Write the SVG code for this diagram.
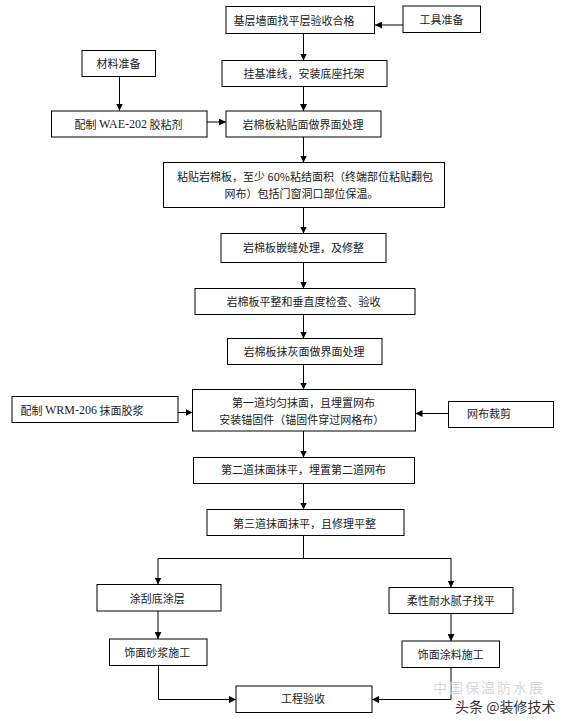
<svg xmlns="http://www.w3.org/2000/svg" width="569" height="721" viewBox="0 0 569 721">
<style>
.b{fill:#fff;stroke:#000;stroke-width:1}
.t{font-family:"Noto Sans CJK SC","Liberation Sans",sans-serif;font-size:11px;fill:#222;text-anchor:middle;dominant-baseline:central}
.l{text-anchor:start}
.s{font-family:"Liberation Serif","Noto Sans CJK SC",serif;font-size:12px}
.c{fill:none;stroke:#000;stroke-width:1}
</style>
<defs>
<marker id="a" markerWidth="7" markerHeight="7" refX="7" refY="3.5" orient="auto" markerUnits="userSpaceOnUse">
<path d="M0,0 L7,3.5 L0,7 z" fill="#000"/>
</marker>
</defs>
<rect width="569" height="721" fill="#fff"/>
<g id="connectors" class="c">
<line x1="403" y1="25" x2="375" y2="25" marker-end="url(#a)"/>
<line x1="303.5" y1="33.5" x2="303.5" y2="60.5" marker-end="url(#a)"/>
<line x1="119.5" y1="76.5" x2="119.5" y2="110.5" marker-end="url(#a)"/>
<line x1="207" y1="122" x2="226" y2="122" marker-end="url(#a)"/>
<line x1="303.5" y1="86.5" x2="303.5" y2="111" marker-end="url(#a)"/>
<line x1="303.5" y1="137" x2="303.5" y2="162.5" marker-end="url(#a)"/>
<line x1="303.5" y1="207.5" x2="303.5" y2="233.5" marker-end="url(#a)"/>
<line x1="303.5" y1="262.5" x2="303.5" y2="288.5" marker-end="url(#a)"/>
<line x1="303.5" y1="314.5" x2="303.5" y2="338.5" marker-end="url(#a)"/>
<line x1="303.5" y1="364.5" x2="303.5" y2="389.5" marker-end="url(#a)"/>
<line x1="175" y1="412.5" x2="192.5" y2="412.5" marker-end="url(#a)"/>
<line x1="448.5" y1="413.5" x2="415.5" y2="413.5" marker-end="url(#a)"/>
<line x1="303.5" y1="431" x2="303.5" y2="457.5" marker-end="url(#a)"/>
<line x1="303.5" y1="483.5" x2="303.5" y2="509.5" marker-end="url(#a)"/>
<polyline points="303.5,535.5 303.5,558.5"/>
<polyline points="158,558.5 451,558.5"/>
<line x1="158" y1="558.5" x2="158" y2="584.5" marker-end="url(#a)"/>
<line x1="451" y1="558.5" x2="451" y2="587.5" marker-end="url(#a)"/>
<line x1="158" y1="611" x2="158" y2="639" marker-end="url(#a)"/>
<line x1="451" y1="613.5" x2="451" y2="641" marker-end="url(#a)"/>
<polyline points="158.5,665.5 158.5,699.5 236,699.5" marker-end="url(#a)"/>
<polyline points="451,667.5 451,699.5 372,699.5" marker-end="url(#a)"/>
</g>
<g id="n1"><rect class="b" x="226" y="6.5" width="148.5" height="27"/><text class="t" x="294" y="20">基层墙面找平层验收合格</text></g>
<g id="n2"><rect class="b" x="403" y="6" width="77.5" height="26.5"/><text class="t" x="441.5" y="19">工具准备</text></g>
<g id="n3"><rect class="b" x="222" y="60.5" width="165" height="26"/><text class="t" x="304" y="72.7">挂基准线，安装底座托架</text></g>
<g id="n4"><rect class="b" x="82" y="50.5" width="73.5" height="26"/><text class="t" x="118.5" y="62.7">材料准备</text></g>
<g id="n5"><rect class="b" x="51.5" y="111" width="155.5" height="26"/><text class="t" x="128.5" y="124">配制 <tspan class="s">WAE-202</tspan> 胶粘剂</text></g>
<g id="n6"><rect class="b" x="226" y="111" width="155" height="26"/><text class="t" x="303" y="124">岩棉板粘贴面做界面处理</text></g>
<g id="n7"><rect class="b" x="163.5" y="162.5" width="281" height="45"/><text class="t" x="305" y="176">粘贴岩棉板，至少 60%粘结面积（终端部位粘贴翻包</text><text class="t" x="301.5" y="192.5">网布）包括门窗洞口部位保温。</text></g>
<g id="n8"><rect class="b" x="221" y="233.5" width="165" height="29"/><text class="t" x="303.5" y="246.7">岩棉板嵌缝处理，及修整</text></g>
<g id="n9"><rect class="b" x="195" y="288.5" width="220" height="26"/><text class="t" x="303.5" y="300.7">岩棉板平整和垂直度检查、验收</text></g>
<g id="n10"><rect class="b" x="227.5" y="338.5" width="154.5" height="26"/><text class="t" x="304" y="351">岩棉板抹灰面做界面处理</text></g>
<g id="n11"><rect class="b" x="192.5" y="389.5" width="223" height="41.5"/><text class="t" x="303.6" y="402">第一道均匀抹面，且埋置网布</text><text class="t" x="301.7" y="419">安装锚固件（锚固件穿过网格布）</text></g>
<g id="n12"><rect class="b" x="12" y="396.5" width="166" height="26"/><text class="t l" x="20.5" y="410">配制 <tspan class="s">WRM-206</tspan> 抹面胶浆</text></g>
<g id="n13"><rect class="b" x="448.5" y="401.5" width="105" height="26"/><text class="t" x="489" y="413.3">网布裁剪</text></g>
<g id="n14"><rect class="b" x="193.5" y="457.5" width="221" height="26"/><text class="t" x="303.5" y="469">第二道抹面抹平，埋置第二道网布</text></g>
<g id="n15"><rect class="b" x="207" y="509.5" width="197" height="26"/><text class="t" x="304.5" y="522.7">第三道抹面抹平，且修理平整</text></g>
<g id="n16"><rect class="b" x="97" y="584.5" width="124" height="26.5"/><text class="t" x="157.2" y="598.3">涂刮底涂层</text></g>
<g id="n17"><rect class="b" x="389" y="587.5" width="124" height="26"/><text class="t" x="450.8" y="599.8">柔性耐水腻子找平</text></g>
<g id="n18"><rect class="b" x="109.5" y="639" width="97.5" height="26.5"/><text class="t" x="157.2" y="651.7">饰面砂浆施工</text></g>
<g id="n19"><rect class="b" x="402" y="641" width="97.5" height="26.5"/><text class="t" x="450.8" y="653.5">饰面涂料施工</text></g>
<g id="n20"><rect class="b" x="236" y="686" width="136" height="26.5"/><text class="t" x="303" y="698">工程验收</text></g>
<g id="watermark">
<text x="433" y="687" style="font-family:'Noto Sans CJK SC',sans-serif;font-size:14px;fill:#d8d8d8;dominant-baseline:central;letter-spacing:2px">中国保温防水展</text>
<text x="455" y="706" style="font-family:'Noto Sans CJK SC',sans-serif;font-size:14px;fill:#333;dominant-baseline:central">头条 @装修技术</text>
</g>
</svg>
